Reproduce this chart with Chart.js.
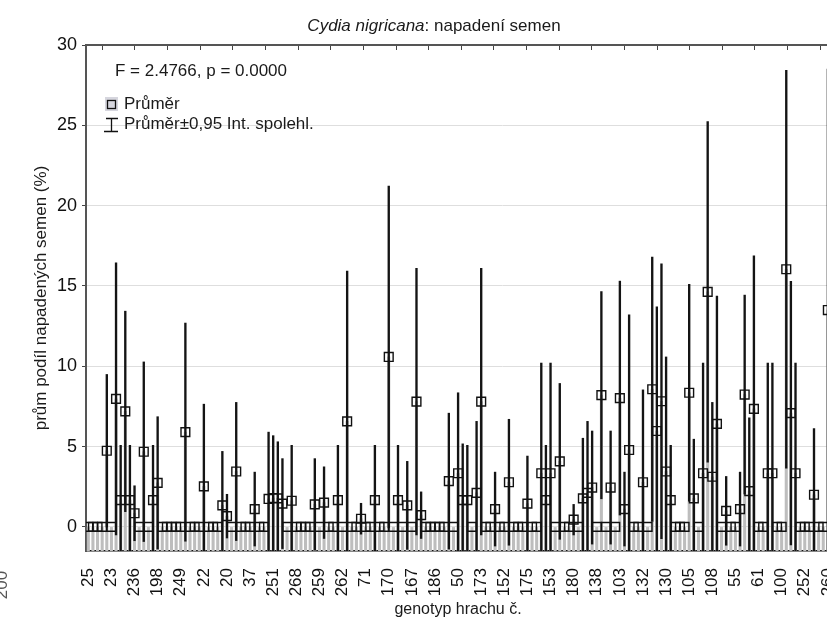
<!DOCTYPE html>
<html>
<head>
<meta charset="utf-8">
<title>Cydia nigricana: napadení semen</title>
<script src="https://cdn.jsdelivr.net/npm/chart.js@4.4.1/dist/chart.umd.min.js"></script>
<style>
  html, body { margin: 0; padding: 0; background: #fff; overflow: hidden; }
  canvas { display: block; }
</style>
</head>
<body>
<canvas id="c" width="930" height="638"></canvas>
<script>
// genotype labels, one every 5th category
var tickLabels = ['25','23','236','198','249','22','20','37','251','268','259','262','71','170','167','186',
                  '50','173','152','175','153','180','138','103','132','130','105','108','55','61','100','252','260'];
var nCat = 161;   // categories visible in the picture (the plot runs on past the right edge)

// categories whose mean is not 0 (all the others are 0)
var nzIndex = [4,6,7,8,9,10,12,14,15,21,25,29,30,32,36,39,40,41,42,44,49,51,54,56,59,62,65,67,69,71,72,
               78,80,81,82,84,85,88,91,95,98,99,100,102,105,107,108,109,111,113,115,116,117,120,122,123,
               124,125,126,130,131,133,134,135,136,138,141,142,143,144,147,148,151,152,153,157,160];
var nzMean  = [4.74,7.97,1.67,7.19,1.67,0.85,4.68,1.67,2.74,5.90,2.52,1.34,0.67,3.45,1.11,1.74,1.80,1.78,
               1.45,1.63,1.40,1.51,1.67,6.57,0.51,1.67,10.58,1.67,1.34,7.80,0.73,2.85,3.34,1.67,1.67,2.12,
               7.80,1.11,2.78,1.45,3.34,1.67,3.34,4.08,0.45,1.78,2.12,2.45,8.20,2.45,8.02,1.11,4.79,2.78,
               8.57,5.97,7.82,3.45,1.67,8.35,1.78,3.34,14.63,3.12,6.41,1.00,1.11,8.24,2.23,7.35,3.34,3.34,
               16.04,7.08,3.34,2.00,13.50];
// half width of the 0.95 confidence interval
var nzCi    = [4.75,8.47,3.41,6.24,3.41,1.71,5.59,3.41,4.12,6.79,5.12,3.36,1.36,4.30,2.30,4.16,3.88,3.52,
               2.80,3.45,2.85,2.23,3.41,9.35,0.96,3.41,10.64,3.41,2.74,8.30,1.45,4.23,5.01,3.50,3.41,4.45,
               8.30,2.30,3.92,2.96,6.86,3.41,6.86,4.85,0.95,3.74,4.45,3.52,6.45,3.52,7.28,2.30,8.41,5.75,
               8.23,7.73,8.55,7.13,3.41,6.75,3.68,6.86,10.60,4.63,7.96,2.14,2.30,6.19,4.56,9.53,6.86,6.86,
               12.38,8.20,6.86,4.12,15.00];

var yMin = -1.5, yMax = 30;
var FONT = '"Liberation Sans", Arial, sans-serif';
Chart.defaults.font.family = FONT;

// build datasets
var means = [];
for (var i = 0; i < nCat; i++) means.push(0);
for (var k = 0; k < nzIndex.length; k++) means[nzIndex[k]] = nzMean[k];

var points = means.map(function(m, i) { return {x: i, y: m}; });
var greyBars = means.map(function(m, i) { return {x: i, y: [yMin, m]}; });
var ciBars = nzIndex.map(function(ix, k) {
  return {x: ix, y: [nzMean[k] - nzCi[k], nzMean[k] + nzCi[k]]};
});

var textPlugin = {
  id: 'texts',
  afterDraw: function(chart) {
    var ctx = chart.ctx;
    ctx.save();
    ctx.fillStyle = '#1a1a1a';
    ctx.textBaseline = 'alphabetic';
    ctx.textAlign = 'left';

    // title, species name in italics
    var a = 'Cydia nigricana', b = ': napadení semen';
    ctx.font = 'italic 17px ' + FONT;
    var wa = ctx.measureText(a).width;
    ctx.font = '17px ' + FONT;
    var wb = ctx.measureText(b).width;
    var tx = 434 - (wa + wb) / 2;
    ctx.font = 'italic 17px ' + FONT;
    ctx.fillText(a, tx, 31);
    ctx.font = '17px ' + FONT;
    ctx.fillText(b, tx + wa, 31);

    // statistics + legend
    ctx.fillText('F = 2.4766, p = 0.0000', 115, 76);
    ctx.fillText('Průměr', 124, 109);
    ctx.fillText('Průměr±0,95 Int. spolehl.', 124, 129);

    ctx.fillStyle = '#d6d6de';
    ctx.fillRect(105, 97, 13, 14);
    ctx.strokeStyle = '#111';
    ctx.lineWidth = 1.3;
    ctx.strokeRect(107.5, 100.5, 8, 8);

    ctx.beginPath();
    ctx.moveTo(106, 118.5); ctx.lineTo(118, 118.5);
    ctx.moveTo(111.5, 118.5); ctx.lineTo(111.5, 131.5);
    ctx.moveTo(104, 131.5); ctx.lineTo(118, 131.5);
    ctx.stroke();

    // axis titles
    ctx.fillStyle = '#1a1a1a';
    ctx.font = '16px ' + FONT;
    ctx.textAlign = 'center';
    ctx.fillText('genotyp hrachu č.', 458, 614);

    ctx.save();
    ctx.translate(41, 298);
    ctx.rotate(-Math.PI / 2);
    ctx.textBaseline = 'middle';
    ctx.font = '17px ' + FONT;
    ctx.fillText('prům podíl napadených semen (%)', 0, 0);
    ctx.restore();

    // page number cut off at the left edge
    ctx.save();
    ctx.translate(2, 585);
    ctx.rotate(-Math.PI / 2);
    ctx.textBaseline = 'middle';
    ctx.fillStyle = '#555';
    ctx.font = '17px ' + FONT;
    ctx.fillText('200', 0, 0);
    ctx.restore();

    ctx.restore();
  }
};

var ctx = document.getElementById('c').getContext('2d');
var chart = new Chart(ctx, {
  type: 'bar',
  data: {
    datasets: [
      {
        type: 'scatter',
        data: points,
        pointStyle: 'rect',
        pointRadius: 6.2,
        pointHoverRadius: 6.2,
        borderColor: '#111',
        backgroundColor: 'rgba(0,0,0,0)',
        borderWidth: 1.4,
        order: 1
      },
      {
        type: 'bar',
        data: ciBars,
        backgroundColor: '#141414',
        barThickness: 1.7,
        grouped: false,
        order: 2
      },
      {
        type: 'bar',
        data: greyBars,
        backgroundColor: '#bdbdbd',
        barThickness: 2.4,
        grouped: false,
        order: 3
      }
    ]
  },
  options: {
    responsive: false,
    animation: false,
    events: [],
    layout: { padding: { left: 0, right: 12, top: 45, bottom: 0 } },
    plugins: {
      legend: { display: false },
      tooltip: { enabled: false },
      title: { display: false }
    },
    scales: {
      x: {
        type: 'linear',
        position: 'bottom',
        min: -0.5,
        max: 179.5,
        offset: false,
        grid: { display: false },
        border: { display: true, color: '#111', width: 1.5 },
        ticks: {
          autoSkip: false,
          minRotation: 90,
          maxRotation: 90,
          padding: 9,
          color: '#111',
          font: { size: 17 },
          callback: function(v) { return tickLabels[Math.round(v / 5)]; }
        },
        afterBuildTicks: function(s) {
          s.ticks = tickLabels.map(function(l, k) { return {value: 5 * k}; });
        },
        afterFit: function(s) { s.height = 87; }
      },
      x2: {
        type: 'linear',
        position: 'top',
        min: -0.5,
        max: 179.5,
        offset: false,
        grid: { drawOnChartArea: false, tickLength: -5, color: '#444' },
        border: { display: true, color: '#555', width: 2 },
        ticks: { display: false },
        afterBuildTicks: function(s) {
          var t = [];
          for (var k = 0; k < 26; k++) t.push({value: -0.5 + k * 7.06});
          s.ticks = t;
        },
        afterFit: function(s) { s.height = 0; }
      },
      y: {
        min: yMin,
        max: yMax,
        grid: { color: '#dedede', tickLength: 4, tickColor: '#444' },
        border: { display: true, color: '#555', width: 2 },
        ticks: { padding: 5, color: '#111', font: { size: 18 } },
        afterBuildTicks: function(s) {
          s.ticks = [0, 5, 10, 15, 20, 25, 30].map(function(v) { return {value: v}; });
        },
        afterFit: function(s) { s.width = 86; }
      }
    }
  },
  plugins: [textPlugin]
});
</script>
</body>
</html>
